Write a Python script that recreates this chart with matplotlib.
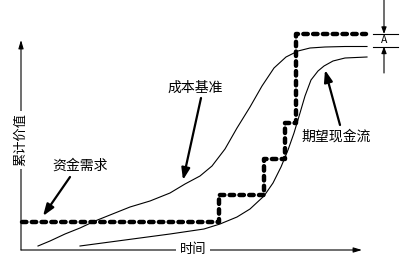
import matplotlib
matplotlib.use('Agg')
import matplotlib.pyplot as plt

plt.rcParams['font.family'] = ['Noto Sans CJK SC', 'DejaVu Sans']

#------------------------------------------------------------------------
# Data (time vs. cumulative value)
#------------------------------------------------------------------------
cost_t = [17, 29, 44, 59, 74, 89, 109, 129, 149, 164, 179, 191, 204,
          216, 229, 241, 253, 265, 277, 289, 304, 324, 346]
cost_v = [4, 9, 16, 22, 29, 35, 43, 49, 57, 66, 74, 84, 101,
          122, 143, 164, 182, 193, 199, 202, 203, 203.5, 203.5]

cash_t = [59, 89, 119, 149, 183, 199, 216, 229, 243, 252, 260, 267,
          273, 279, 284, 290, 297, 303, 312, 324, 346]
cash_v = [4, 8, 12, 16, 21, 26, 33, 41, 54, 67, 83, 100,
          117, 137, 154, 170, 179, 184, 189, 192, 193]

fund_t = [1, 198, 198, 243, 243, 264, 264, 275, 275, 345]
fund_v = [28, 28, 55, 55, 91, 91, 127, 127, 216, 216]

#------------------------------------------------------------------------
fig = plt.figure(figsize=(4.08, 2.68), dpi=100)
ax = fig.add_axes([0, 0, 1, 1])
ax.set_xlim(-21, 387)
ax.set_ylim(-18, 250)
ax.axis('off')

ink = 'black'

# curves
ax.plot(cost_t, cost_v, color=ink, lw=0.8)
ax.plot(cash_t, cash_v, color=ink, lw=0.8)
ax.plot(fund_t, fund_v, color=ink, lw=3.2, dashes=(1.0, 1.2),
        dash_capstyle='round', solid_joinstyle='round')

# axes with arrows
arr = dict(arrowstyle='-|>,head_length=0.5,head_width=0.15',
           color=ink, lw=0.8, shrinkA=0, shrinkB=0)
ax.annotate('', xy=(0, 210), xytext=(0, 0), arrowprops=arr)
ax.annotate('', xy=(341, 0), xytext=(0, 0), arrowprops=arr)

ax.text(0, 110, '累计价值', rotation=90, ha='center', va='center',
        fontsize=9.5, bbox=dict(facecolor='white', edgecolor='none', pad=2))
ax.text(172, 0, '时间', ha='center', va='center', fontsize=9.5,
        bbox=dict(facecolor='white', edgecolor='none', pad=2.5))

# labels with pointer arrows
ptr = dict(arrowstyle='-|>,head_length=0.7,head_width=0.25',
           color=ink, lw=1.6, shrinkA=0, shrinkB=0)
ax.text(174, 162, '成本基准', ha='center', va='center', fontsize=10)
ax.annotate('', xy=(162, 70), xytext=(180, 152), arrowprops=ptr)

ax.text(59, 84, '资金需求', ha='center', va='center', fontsize=10)
ax.annotate('', xy=(22, 34), xytext=(49, 73), arrowprops=ptr)

ax.text(315, 113, '期望现金流', ha='center', va='center', fontsize=10)
ax.annotate('', xy=(304, 180), xytext=(319, 125), arrowprops=ptr)

# "A" dimension marker
top_v = fund_v[-1]
low_v = cost_v[-1]
ax.plot([352, 377], [top_v, top_v], color=ink, lw=0.8)
ax.plot([352, 377], [low_v, low_v], color=ink, lw=0.8)
dim = dict(arrowstyle='-|>,head_length=0.4,head_width=0.15',
           color=ink, lw=0.8, shrinkA=0, shrinkB=0)
ax.annotate('', xy=(363, top_v), xytext=(363, 250), arrowprops=dim)
ax.annotate('', xy=(363, low_v), xytext=(363, 177), arrowprops=dim)
ax.text(363, (top_v + low_v) / 2, 'A', ha='center', va='center',
        fontsize=7.5)

fig.savefig('out.png', dpi=100)
